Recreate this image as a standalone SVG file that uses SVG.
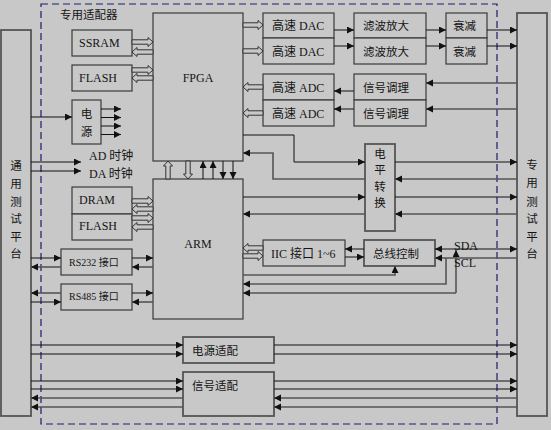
<svg xmlns="http://www.w3.org/2000/svg" width="551" height="430" viewBox="0 0 551 430">
<style>
.box{fill:#c8c8c8;stroke:#3a3a3a;stroke-width:1.2}
.box2{fill:#c8c8c8;stroke:#555;stroke-width:1.8}
.ln{stroke:#111;stroke-width:1;fill:none}
.lg{stroke:#555;stroke-width:1.6;fill:none}
.ha{fill:#c8c8c8;stroke:#333;stroke-width:1}
text{font-family:"Liberation Serif","Noto Sans CJK SC",serif;font-size:12px;fill:#151515}
.cj{font-family:"Noto Sans CJK SC",sans-serif;font-size:11.5px}
.sm{font-size:10px}
.mid{text-anchor:middle}
</style>
<defs>
<marker id="a" markerUnits="userSpaceOnUse" markerWidth="8" markerHeight="8" refX="7" refY="3.5" orient="auto-start-reverse"><path d="M0,0L7,3.5L0,7Z" fill="#111"/></marker>
</defs>
<rect x="0" y="0" width="551" height="430" fill="#c8c8c8"/>
<rect x="41" y="4" width="456" height="420" fill="none" stroke="#1c1c70" stroke-width="1.2" stroke-dasharray="7,4"/>
<text x="60" y="19" class="cj">专用适配器</text>

<g id="platform-left"><rect x="1" y="30" width="30" height="386" class="box2"/>
<text class="cj mid" x="16" font-size="12.5"><tspan x="16" y="169.5">通</tspan><tspan x="16" y="187.5">用</tspan><tspan x="16" y="205.5">测</tspan><tspan x="16" y="222.5">试</tspan><tspan x="16" y="240.5">平</tspan><tspan x="16" y="257.5">台</tspan></text></g>
<g id="platform-right"><rect x="517" y="13" width="30" height="403" class="box2"/>
<text class="cj mid" x="532" font-size="12.5"><tspan x="532" y="168.5">专</tspan><tspan x="532" y="186.5">用</tspan><tspan x="532" y="205.5">测</tspan><tspan x="532" y="222.5">试</tspan><tspan x="532" y="240.5">平</tspan><tspan x="532" y="257.5">台</tspan></text></g>

<g id="ssram"><rect x="72" y="30" width="60" height="26" class="box"/><text x="79" y="46.5">SSRAM</text></g>
<g id="flash1"><rect x="72" y="65" width="60" height="26" class="box"/><text x="79" y="81.5">FLASH</text></g>
<g id="fpga"><rect x="153" y="13" width="90" height="148" class="box"/><text x="198" y="81.5" class="mid" font-size="13">FPGA</text></g>
<g id="power"><rect x="72" y="100" width="29" height="44" class="box"/><text class="cj mid"><tspan x="86.5" y="117.5">电</tspan><tspan x="86.5" y="135.5">源</tspan></text></g>
<g id="clk"><text x="89" y="159.5">AD 时钟</text><text x="89" y="178">DA 时钟</text></g>

<g id="dac1"><rect x="263" y="13" width="71" height="25" class="box"/><text x="272" y="29.5">高速 DAC</text></g>
<g id="dac2"><rect x="263" y="38" width="71" height="26" class="box"/><text x="272" y="55.5">高速 DAC</text></g>
<g id="filt1"><rect x="354" y="13" width="72" height="25" class="box"/><text x="363" y="29.5" class="cj">滤波放大</text></g>
<g id="filt2"><rect x="354" y="38" width="72" height="26" class="box"/><text x="363" y="55.5" class="cj">滤波放大</text></g>
<g id="att1"><rect x="446" y="13" width="41" height="25" class="box"/><text x="453" y="29.5" class="cj">衰减</text></g>
<g id="att2"><rect x="446" y="38" width="41" height="26" class="box"/><text x="453" y="55.5" class="cj">衰减</text></g>
<g id="adc1"><rect x="263" y="74" width="71" height="26" class="box"/><text x="272" y="91.5">高速 ADC</text></g>
<g id="adc2"><rect x="263" y="100" width="71" height="26" class="box"/><text x="272" y="117.5">高速 ADC</text></g>
<g id="cond1"><rect x="354" y="74" width="72" height="26" class="box"/><text x="363" y="91.5" class="cj">信号调理</text></g>
<g id="cond2"><rect x="354" y="100" width="72" height="26" class="box"/><text x="363" y="117.5" class="cj">信号调理</text></g>

<g id="level"><rect x="365" y="144" width="30" height="87" class="box2"/><text class="cj mid"><tspan x="380" y="157.5">电</tspan><tspan x="380" y="174">平</tspan><tspan x="380" y="190.5">转</tspan><tspan x="380" y="207">换</tspan></text></g>

<g id="dram"><rect x="72" y="187" width="60" height="27" class="box"/><text x="79" y="203.5">DRAM</text></g>
<g id="flash2"><rect x="72" y="214" width="60" height="26" class="box"/><text x="79" y="229.5">FLASH</text></g>
<g id="arm"><rect x="153" y="179" width="90" height="140" class="box"/><text x="198" y="247.5" class="mid" font-size="13">ARM</text></g>
<g id="rs232"><rect x="61" y="249" width="71" height="26" class="box"/><text x="69" y="265.5" class="sm">RS232 接口</text></g>
<g id="rs485"><rect x="61" y="284" width="71" height="26" class="box"/><text x="69" y="300" class="sm">RS485 接口</text></g>
<g id="iic"><rect x="263" y="240" width="82" height="26" class="box"/><text x="271" y="257.5">IIC 接口 1~6</text></g>
<g id="bus"><rect x="364" y="240" width="71" height="26" class="box2"/><text x="373" y="257.5" class="cj">总线控制</text></g>
<text x="454" y="250">SDA</text><text x="454" y="266.5">SCL</text>

<g id="pwradapt"><rect x="183" y="337" width="91" height="26" class="box2"/><text x="192" y="354.5" class="cj">电源适配</text></g>
<g id="sigadapt"><rect x="183" y="372" width="91" height="44" class="box2"/><text x="192" y="389.5" class="cj">信号适配</text></g>

<g id="connectors">
<g class="ha">
<path d="M132,39.8H148V37.5L153,42L148,46.5V44.2H132Z"/>
<path d="M153,49.8H137V47.5L132,52L137,56.5V54.2H153Z"/>
<path d="M132,67.8H148V65.5L153,70L148,74.5V72.2H132Z"/>
<path d="M153,75.8H137V73.5L132,78L137,82.5V80.2H153Z"/>
<path d="M243,22.8H258V20.5L263,25L258,29.5V27.2H243Z"/>
<path d="M243,48.8H258V46.5L263,51L258,55.5V53.2H243Z"/>
<path d="M263,84.8H248V82.5L243,87L248,91.5V89.2H263Z"/>
<path d="M263,110.8H248V108.5L243,113L248,117.5V115.2H263Z"/>
<path d="M132,198.8H148V196.5L153,201L148,205.5V203.2H132Z"/>
<path d="M153,206.8H137V204.5L132,209L137,213.5V211.2H153Z"/>
<path d="M132,215.8H148V213.5L153,218L148,222.5V220.2H132Z"/>
<path d="M153,224.8H137V222.5L132,227L137,231.5V229.2H153Z"/>
<path d="M263,245.8H248V243.5L243,248L248,252.5V250.2H263Z"/>
<path d="M243,253.8H258V251.5L263,256L258,260.5V258.2H243Z"/>
<path d="M165.8,179V166H163.5L168,161L172.5,166H170.2V179Z"/>
<path d="M185.8,161V174H183.5L188,179L192.5,174H190.2V161Z"/>
</g>
<g class="ln" marker-end="url(#a)">
<path d="M31,117H72"/>
<path d="M101,109H121"/><path d="M101,117.5H121"/><path d="M101,126H121"/><path d="M101,134.5H121"/>
<path d="M31,162H81"/><path d="M31,171H81"/>
<path d="M334,30H354"/><path d="M334,46H354"/>
<path d="M426,30H446"/><path d="M426,46H446"/>
<path d="M487,30H517"/><path d="M487,46H517"/>
<path d="M354,91H334"/><path d="M354,109H334"/>
<path d="M203,179V161"/><path d="M213,179V161"/>
<path d="M223,161V179"/><path d="M233,161V179"/>
<path d="M243,135H294V162H365"/>
<path d="M395,162H517"/>
<path d="M243,197H365"/><path d="M395,197H517"/>
<path d="M31,258H61"/><path d="M132,258H153"/>
<path d="M132,293H153"/><path d="M31,302H61"/>
<path d="M345,257H364"/>
<path d="M31,345H183"/><path d="M31,354H183"/>
<path d="M274,345H517"/><path d="M274,354H517"/>
<path d="M31,381H183"/><path d="M31,389H183"/>
<path d="M274,381H517"/><path d="M274,389H517"/>
<path d="M364,249H345"/>
<path d="M435,249H517" marker-start="url(#a)"/>
<path d="M456,293V250"/>
</g>
<g class="lg" marker-end="url(#a)">
<path d="M517,83H426"/><path d="M517,109H426"/>
<path d="M365,179H273V153H243"/>
<path d="M517,179H395"/>
<path d="M365,214H243"/><path d="M517,214H395"/>
<path d="M61,267H31"/><path d="M153,267H132"/>
<path d="M61,293H31"/><path d="M153,302H132"/>
<path d="M243,275H395V266"/>
<path d="M517,258H435"/>
<path d="M446,258V284H243"/>
<path d="M456,293H243"/>
<path d="M183,398H31"/><path d="M183,407H31"/>
<path d="M517,398H274"/><path d="M517,407H274"/>
</g>
</g>
</svg>
